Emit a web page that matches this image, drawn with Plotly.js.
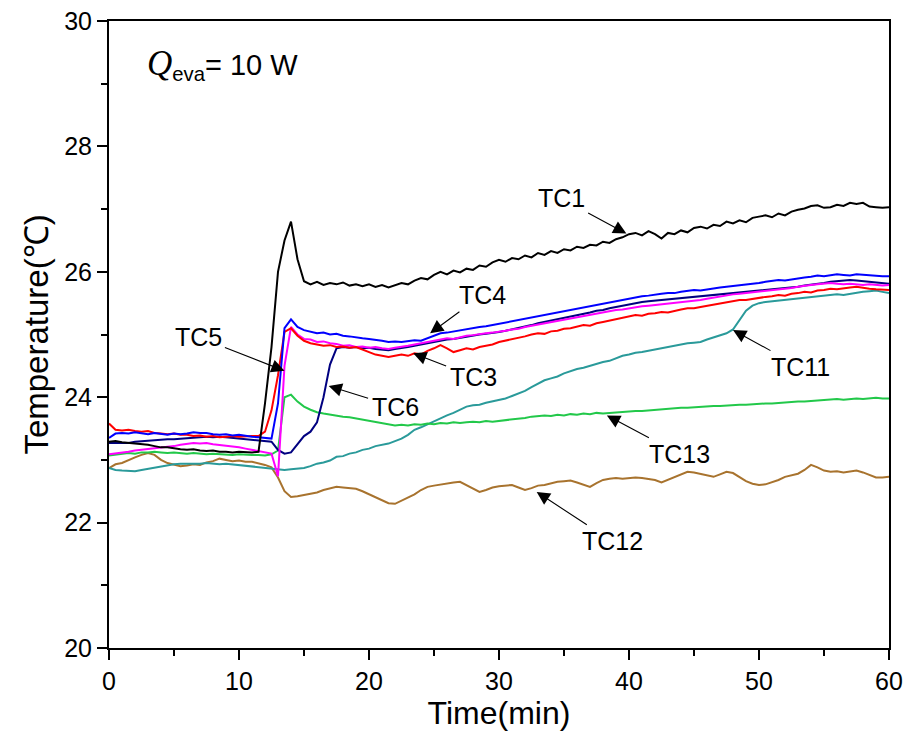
<!DOCTYPE html>
<html>
<head>
<meta charset="utf-8">
<script src="https://cdn.plot.ly/plotly-3.0.1.min.js"></script>
<style>html,body{margin:0;padding:0;background:#fff;}#chart{width:907px;height:735px;}</style>
</head>
<body>
<div id="chart"></div>
<script>
const time = [0,0.5,1,1.5,2,2.5,3,3.5,4,4.5,5,5.5,6,6.5,7,7.5,8,8.5,9,9.5,10,10.5,11,
11.5,12,12.5,13,13.5,14,14.5,15,
15.5,16,16.5,17,17.5,18,18.5,19,19.5,20,20.5,21,21.5,22,
22.5,23,23.5,24,24.5,25,25.5,26,26.5,27,27.5,28,28.5,29,29.5,30,
30.5,31,31.5,32,32.5,33,33.5,34,34.5,35,35.5,36,36.5,37,37.5,38,38.5,39,39.5,40,
40.5,41,41.5,42,42.5,43,43.5,44,44.5,45,45.5,46,46.5,47,47.5,48,48.5,49,49.5,50,
50.5,51,51.5,52,52.5,53,53.5,54,54.5,55,55.5,56,56.5,57,57.5,58,58.5,59,59.5,60];

const TC1 = [23.29,23.30,23.28,23.27,23.27,23.25,23.24,23.22,23.20,23.20,23.18,23.17,23.16,23.17,23.15,23.14,23.15,23.13,23.13,23.12,23.13,23.12,23.12,
23.13,23.90,24.80,26.00,26.50,26.80,26.20,25.85,
25.80,25.84,25.79,25.82,25.80,25.83,25.78,25.80,25.77,25.80,25.76,25.79,25.75,25.78,
25.82,25.80,25.86,25.90,25.88,25.95,26.00,25.96,26.02,25.99,26.05,26.03,26.10,26.08,26.15,26.19,
26.16,26.22,26.20,26.26,26.23,26.30,26.27,26.33,26.30,26.36,26.34,26.40,26.38,26.43,26.42,26.48,26.46,26.52,26.55,26.60,
26.62,26.58,26.65,26.60,26.53,26.62,26.60,26.66,26.63,26.70,26.72,26.69,26.75,26.73,26.80,26.77,26.82,26.79,26.86,26.88,
26.90,26.87,26.93,26.90,26.96,26.99,27.01,27.05,27.06,27.02,27.03,27.07,27.05,27.10,27.08,27.10,27.04,27.03,27.02,27.03];

const TC3 = [23.58,23.48,23.47,23.48,23.46,23.45,23.46,23.43,23.42,23.41,23.42,23.40,23.40,23.38,23.39,23.37,23.38,23.36,23.37,23.38,23.37,23.38,23.38,
23.38,23.45,23.79,24.35,25.04,25.10,24.98,24.90,
24.86,24.84,24.82,24.83,24.80,24.81,24.79,24.80,24.76,24.72,24.68,24.66,24.64,24.66,
24.68,24.66,24.70,24.68,24.74,24.78,24.83,24.78,24.72,24.75,24.78,24.76,24.80,24.82,24.84,24.88,
24.90,24.92,24.95,24.97,25.00,25.02,25.01,25.05,25.06,25.09,25.10,25.12,25.15,25.14,25.18,25.20,25.22,25.24,25.26,25.29,
25.31,25.30,25.33,25.34,25.36,25.35,25.38,25.40,25.42,25.42,25.44,25.46,25.48,25.49,25.52,25.53,25.55,25.55,25.57,25.59,
25.60,25.61,25.63,25.62,25.65,25.66,25.68,25.67,25.70,25.71,25.73,25.72,25.74,25.75,25.76,25.74,25.73,25.72,25.71,25.71];

const TC4 = [23.35,23.42,23.43,23.42,23.44,23.43,23.41,23.43,23.42,23.40,23.42,23.41,23.42,23.44,23.43,23.43,23.41,23.40,23.41,23.39,23.40,23.38,23.37,
23.36,23.35,23.34,23.90,25.10,25.24,25.12,25.07,
25.05,25.02,25.03,25.00,25.01,24.98,24.97,24.95,24.94,24.93,24.92,24.90,24.88,24.89,
24.88,24.90,24.91,24.90,24.94,24.97,25.02,25.03,25.05,25.07,25.08,25.10,25.12,25.13,25.15,25.17,
25.19,25.21,25.23,25.25,25.27,25.30,25.32,25.34,25.36,25.38,25.40,25.42,25.44,25.46,25.48,25.49,25.51,25.53,25.56,25.58,
25.60,25.61,25.62,25.64,25.65,25.66,25.66,25.68,25.69,25.71,25.70,25.72,25.73,25.75,25.76,25.77,25.79,25.80,25.81,25.82,
25.84,25.85,25.87,25.86,25.88,25.90,25.91,25.92,25.94,25.93,25.95,25.96,25.95,25.94,25.96,25.95,25.94,25.93,25.93,25.93];

const TC5 = [23.09,23.10,23.11,23.13,23.15,23.16,23.18,23.19,23.20,23.21,23.22,23.24,23.25,23.27,23.26,23.27,23.25,23.24,23.22,23.21,23.20,23.18,23.16,
23.15,23.13,23.10,22.74,24.50,25.12,25.00,24.93,
24.92,24.88,24.89,24.86,24.85,24.82,24.83,24.80,24.81,24.79,24.80,24.78,24.77,24.79,
24.80,24.82,24.84,24.86,24.88,24.90,24.93,24.94,24.93,24.96,24.98,24.99,25.01,25.02,25.03,25.04,
25.06,25.08,25.09,25.12,25.14,25.16,25.18,25.20,25.21,25.24,25.26,25.28,25.30,25.32,25.34,25.35,25.37,25.39,25.40,25.42,
25.44,25.45,25.46,25.47,25.48,25.49,25.50,25.51,25.52,25.53,25.55,25.57,25.59,25.61,25.63,25.64,25.65,25.66,25.68,25.69,
25.70,25.71,25.72,25.73,25.74,25.76,25.78,25.79,25.80,25.81,25.82,25.81,25.80,25.81,25.80,25.79,25.80,25.79,25.78,25.79];

const TC6 = [23.27,23.27,23.28,23.27,23.29,23.30,23.30,23.31,23.32,23.33,23.33,23.34,23.35,23.36,23.36,23.37,23.36,23.37,23.36,23.35,23.35,23.33,23.32,
23.31,23.30,23.29,23.16,23.10,23.12,23.25,23.38,
23.45,23.60,24.00,24.52,24.78,24.80,24.79,24.80,24.78,24.79,24.77,24.76,24.75,24.77,
24.78,24.80,24.82,24.84,24.86,24.88,24.91,24.92,24.93,24.95,24.97,24.98,25.00,25.01,25.02,25.04,
25.06,25.08,25.10,25.13,25.15,25.18,25.20,25.22,25.24,25.27,25.29,25.31,25.33,25.35,25.38,25.39,25.42,25.44,25.46,25.49,
25.51,25.52,25.53,25.54,25.55,25.56,25.57,25.58,25.59,25.60,25.60,25.61,25.62,25.63,25.64,25.65,25.66,25.67,25.68,25.69,
25.70,25.71,25.72,25.74,25.75,25.76,25.78,25.79,25.81,25.82,25.84,25.85,25.86,25.87,25.86,25.85,25.84,25.83,25.82,25.81];

const TC11 = [22.87,22.84,22.83,22.82,22.82,22.84,22.86,22.88,22.90,22.92,22.93,22.94,22.94,22.93,22.94,22.95,22.94,22.93,22.94,22.93,22.92,22.91,22.90,
22.89,22.88,22.87,22.85,22.84,22.85,22.86,22.87,
22.90,22.94,22.96,22.99,23.05,23.06,23.10,23.12,23.16,23.18,23.22,23.24,23.26,23.30,
23.34,23.40,23.48,23.52,23.57,23.62,23.66,23.71,23.75,23.80,23.85,23.87,23.88,23.91,23.93,23.95,
23.98,24.02,24.06,24.10,24.16,24.22,24.27,24.30,24.33,24.38,24.42,24.45,24.47,24.50,24.54,24.56,24.58,24.62,24.66,24.68,
24.71,24.72,24.74,24.76,24.78,24.80,24.83,24.84,24.86,24.87,24.88,24.92,24.95,24.98,25.02,25.08,25.24,25.38,25.46,25.50,
25.52,25.53,25.55,25.55,25.57,25.58,25.59,25.60,25.61,25.62,25.63,25.64,25.63,25.65,25.67,25.68,25.69,25.70,25.68,25.66];

const TC12 = [22.87,22.93,22.95,23.00,23.04,23.08,23.11,23.08,23.00,22.95,22.92,22.90,22.91,22.93,22.92,22.96,22.98,23.02,23.00,22.98,22.99,22.97,22.97,
22.95,22.92,22.88,22.72,22.50,22.41,22.42,22.44,
22.46,22.48,22.52,22.55,22.57,22.56,22.55,22.54,22.50,22.45,22.41,22.36,22.31,22.30,
22.35,22.39,22.45,22.52,22.57,22.59,22.61,22.62,22.64,22.65,22.60,22.55,22.49,22.52,22.56,22.58,
22.59,22.60,22.56,22.52,22.55,22.59,22.60,22.63,22.65,22.66,22.67,22.64,22.60,22.57,22.63,22.68,22.70,22.71,22.70,22.71,
22.72,22.71,22.70,22.68,22.64,22.68,22.73,22.77,22.81,22.80,22.78,22.75,22.73,22.77,22.81,22.79,22.72,22.66,22.62,22.60,
22.61,22.64,22.68,22.73,22.76,22.78,22.84,22.92,22.88,22.83,22.81,22.82,22.80,22.81,22.83,22.80,22.76,22.72,22.72,22.73];

const TC13 = [23.07,23.08,23.10,23.11,23.10,23.12,23.12,23.13,23.12,23.11,23.12,23.11,23.10,23.11,23.10,23.09,23.10,23.09,23.09,23.08,23.09,23.08,23.08,
23.08,23.07,23.09,23.15,24.00,24.04,23.93,23.85,
23.80,23.76,23.74,23.72,23.70,23.69,23.68,23.66,23.64,23.62,23.60,23.58,23.56,23.55,
23.56,23.55,23.57,23.56,23.58,23.57,23.59,23.58,23.60,23.59,23.60,23.61,23.60,23.62,23.61,23.62,
23.63,23.64,23.66,23.67,23.69,23.70,23.71,23.70,23.72,23.71,23.73,23.72,23.74,23.73,23.75,23.74,23.75,23.76,23.76,23.77,
23.78,23.78,23.79,23.80,23.80,23.81,23.82,23.83,23.83,23.84,23.85,23.85,23.86,23.86,23.87,23.87,23.88,23.88,23.89,23.89,
23.90,23.90,23.91,23.92,23.92,23.93,23.93,23.94,23.95,23.95,23.96,23.97,23.96,23.97,23.98,23.97,23.98,23.99,23.98,23.98];

const seriesNames = ["TC12","TC11","TC13","TC6","TC5","TC3","TC4","TC1"];
const seriesData = {TC1, TC3, TC4, TC5, TC6, TC11, TC12, TC13};
const seriesColors = {TC1:"#000000", TC3:"#ff0000", TC4:"#0000ff", TC5:"#ff00ff", TC6:"#000080",
  TC11:"#2a9a9a", TC12:"#a8732e", TC13:"#22c84a"};

// label text position [t, T] and arrow tip [t, T]
const labelNames = ["TC1","TC4","TC3","TC5","TC6","TC11","TC13","TC12"];
const labelTextT = [34.8, 28.7, 28.0, 6.85, 22.0, 53.2, 43.9, 38.7];
const labelTextY = [27.17, 25.63, 24.33, 24.96, 23.85, 24.48, 23.09, 21.70];
const labelTipT  = [39.8, 24.7, 23.4, 13.5, 16.9, 48.0, 38.3, 32.9];
const labelTipY  = [26.61, 25.02, 24.70, 24.42, 24.18, 25.07, 23.71, 22.49];

const traces = seriesNames.map(n => ({
  x: time, y: seriesData[n], type: "scatter", mode: "lines", name: n,
  line: {color: seriesColors[n], width: 2}, hoverinfo: "skip"
}));

const font = "Arial, 'Liberation Sans', sans-serif";
const annotations = labelNames.map((n, i) => ({
  x: labelTipT[i], y: labelTipY[i], xref: "x", yref: "y",
  ax: labelTextT[i], ay: labelTextY[i], axref: "x", ayref: "y",
  text: n, showarrow: true, arrowhead: 2, arrowsize: 2.4, arrowwidth: 1.1,
  arrowcolor: "#000", standoff: 0, startstandoff: 2,
  font: {family: font, size: 25, color: "#000"}
}));
annotations.push({
  xref: "x", yref: "y", x: 2.8, y: 29.3, xanchor: "left", yanchor: "middle",
  showarrow: false,
  text: "<span style=\"font-family:'Liberation Serif',serif;font-style:italic;font-size:35px\">Q</span><sub>eva</sub>= 10 W",
  font: {family: font, size: 29, color: "#000"}
});

const layout = {
  width: 907, height: 735,
  margin: {l: 109, r: 18, t: 21, b: 87},
  paper_bgcolor: "#fff", plot_bgcolor: "#fff",
  showlegend: false,
  font: {family: font, color: "#000"},
  xaxis: {
    range: [0, 60], tickvals: [0,10,20,30,40,50,60], ticktext: ["0","10","20","30","40","50","60"],
    ticks: "outside", ticklen: 10, tickwidth: 2, tickcolor: "#000",
    minor: {dtick: 5, tick0: 0, ticks: "outside", ticklen: 6, tickwidth: 2, tickcolor: "#000", showgrid: false},
    showline: true, linewidth: 2, linecolor: "#000", mirror: true, showgrid: false, zeroline: false,
    tickfont: {family: font, size: 25, color: "#000"},
    title: {text: "Time(min)", font: {family: font, size: 32, color: "#000"}, standoff: 4}
  },
  yaxis: {
    range: [20, 30], tickvals: [20,22,24,26,28,30], ticktext: ["20","22","24","26","28","30"],
    ticks: "outside", ticklen: 10, tickwidth: 2, tickcolor: "#000",
    minor: {dtick: 1, tick0: 20, ticks: "outside", ticklen: 6, tickwidth: 2, tickcolor: "#000", showgrid: false},
    showline: true, linewidth: 2, linecolor: "#000", mirror: true, showgrid: false, zeroline: false,
    tickfont: {family: font, size: 25, color: "#000"},
    title: {text: "Temperature(℃)", font: {family: font, size: 33, color: "#000"}, standoff: 6}
  },
  annotations: annotations
};

Plotly.newPlot("chart", traces, layout, {staticPlot: true, displayModeBar: false});
</script>
</body>
</html>
